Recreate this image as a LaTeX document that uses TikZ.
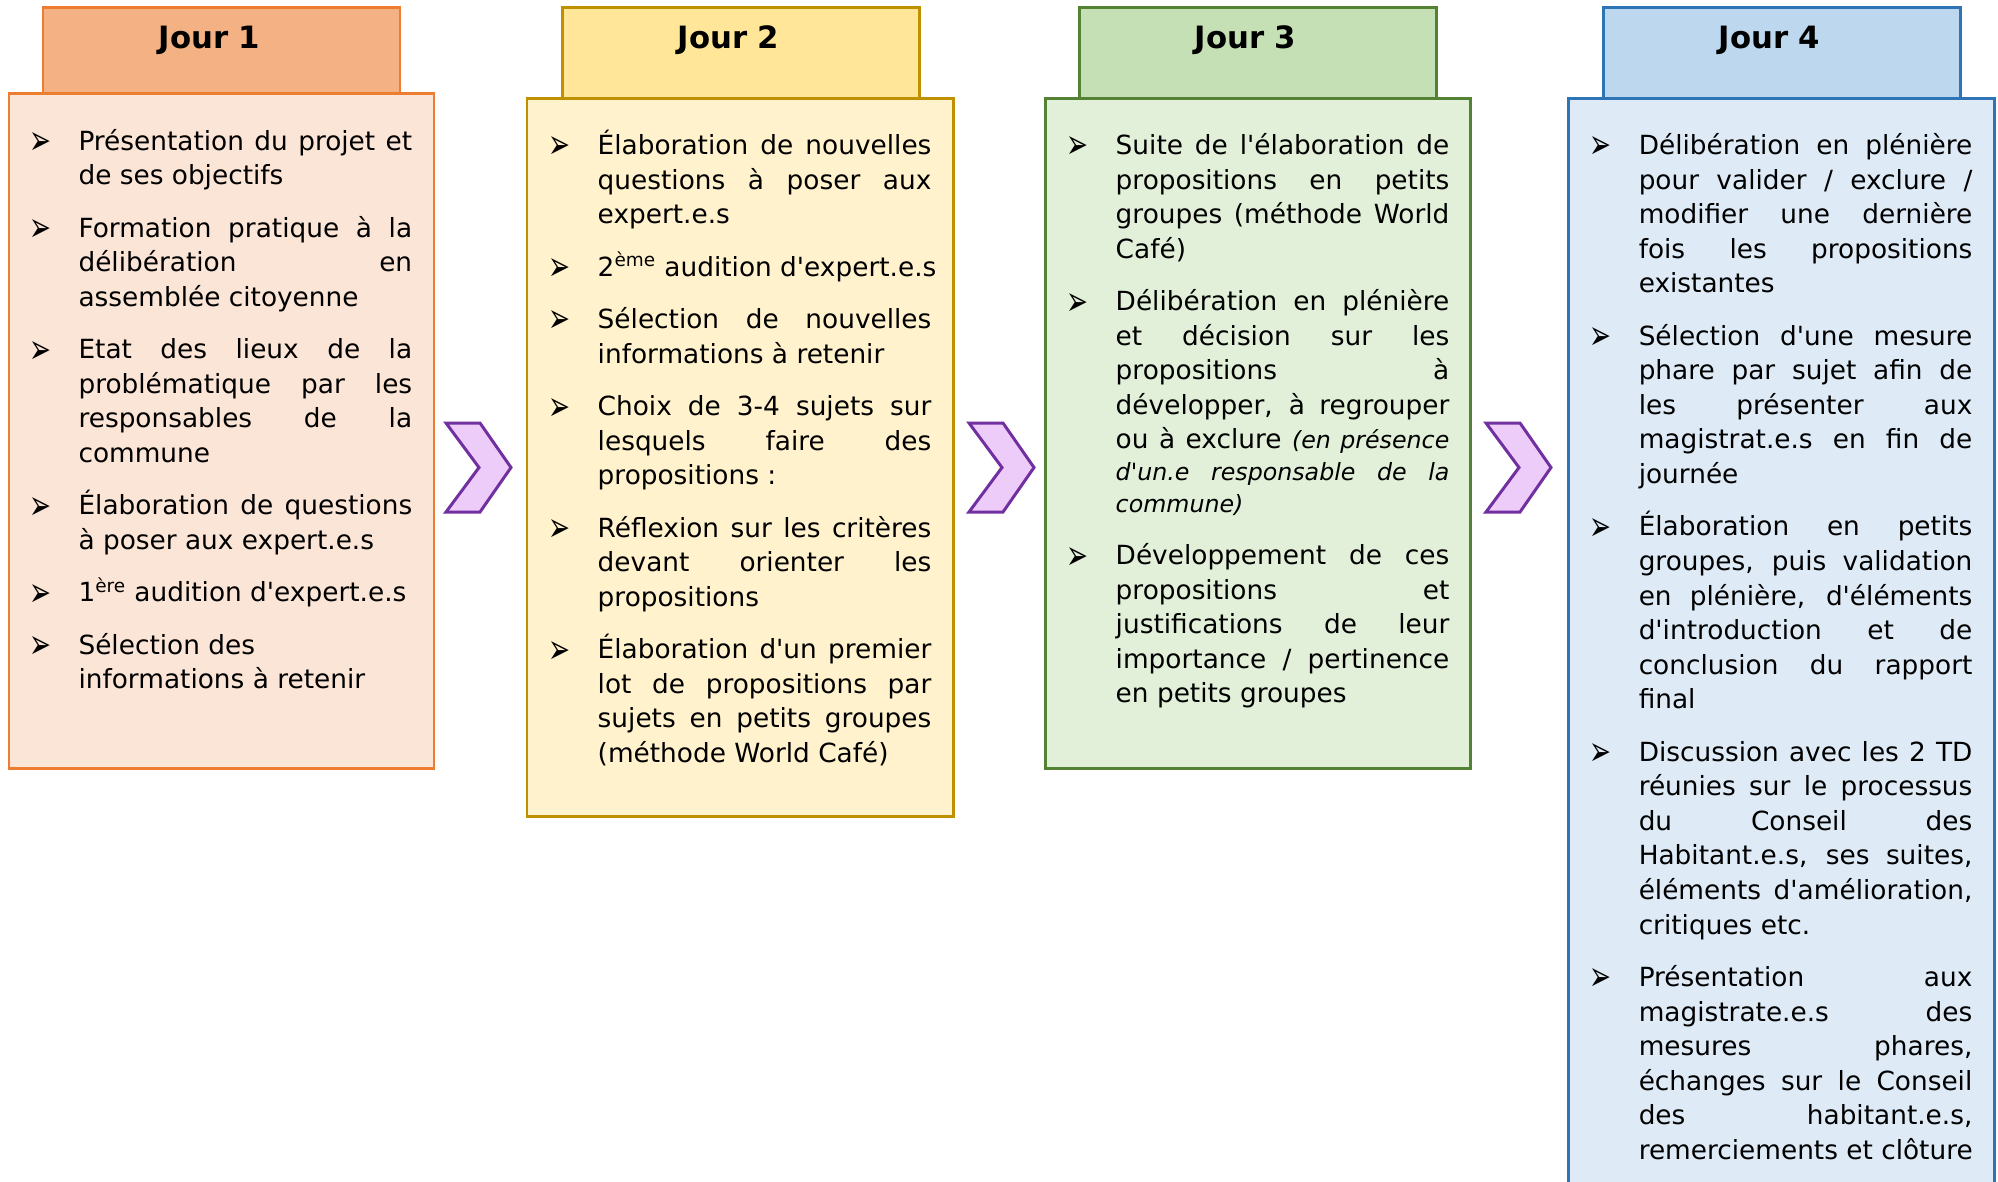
\documentclass[tikz,border=0pt]{standalone}
\usepackage{fontspec}
\setmainfont{DejaVu Sans}[Ligatures=TeXOff]
\usepackage{graphicx}

\definecolor{orbord}{HTML}{ED7D31}
\definecolor{ortete}{HTML}{F4B183}
\definecolor{orcorps}{HTML}{FBE5D6}
\definecolor{jabord}{HTML}{BF9000}
\definecolor{jatete}{HTML}{FFE699}
\definecolor{jacorps}{HTML}{FFF2CC}
\definecolor{vebord}{HTML}{548235}
\definecolor{vetete}{HTML}{C5E0B4}
\definecolor{vecorps}{HTML}{E2F0D9}
\definecolor{blbord}{HTML}{2E75B6}
\definecolor{bltete}{HTML}{BDD7EE}
\definecolor{blcorps}{HTML}{DEEBF7}
\definecolor{vibord}{HTML}{7030A0}
\definecolor{vifond}{HTML}{EECCFA}

\newlength{\largeur}\setlength{\largeur}{189.9pt}
\newlength{\retrait}\setlength{\retrait}{26.4pt}
\newlength{\ecart}\setlength{\ecart}{10.2pt}
\newcommand{\fleche}{\hspace*{-1.5pt}\raisebox{-2.5pt}{\resizebox{12.5pt}{12.5pt}{➢}}}
\newcommand{\puce}{\par\hangindent=\retrait\hangafter=0\noindent\llap{\makebox[\retrait][l]{\fleche}}\setlength{\parskip}{\ecart}}
\newcommand{\jl}[1]{\makebox[\largeur][s]{#1}\newline}
\newcommand{\dl}[1]{\makebox[\largeur][l]{#1}}
\newcommand{\suite}[1]{\par\begingroup\setlength{\parskip}{0pt}\fontsize{13.5}{18}\selectfont\itshape\hangindent=\retrait\hangafter=0\noindent#1\par\endgroup}

\begin{document}
\begin{tikzpicture}[x=0.02cm, y=-0.02cm,
  boite/.style 2 args={draw=#2, fill=#1, line width=1.7pt},
  titre/.style={anchor=base, inner sep=0pt, font=\bfseries\fontsize{17.5}{20}\selectfont},
  texte/.style={anchor=base west, inner sep=0pt, font=\fontsize{15}{19.67}\selectfont},
  chevron/.style={draw=vibord, fill=vifond, line width=1.7pt}]
\clip (0,0) rectangle (1998,1181);

\draw[boite={ortete}{orbord}] (43,7) rectangle (400,93);
\draw[boite={orcorps}{orbord}] (9,93) rectangle (434,768);
\draw[boite={jatete}{jabord}] (562,7) rectangle (919,98);
\draw[boite={jacorps}{jabord}] (527,98) rectangle (953,816);
\draw[boite={vetete}{vebord}] (1079,7) rectangle (1436,98);
\draw[boite={vecorps}{vebord}] (1045,98) rectangle (1470,768);
\draw[boite={bltete}{blbord}] (1603,7) rectangle (1960,98);
\draw[boite={blcorps}{blbord}] (1568,98) rectangle (1994,1240);

\foreach \xc in {446,969,1486}
  \draw[chevron] (\xc,423) -- ++(34,0) -- ++(31,44.5) -- ++(-31,44.5) -- ++(-34,0) -- ++(33,-44.5) -- cycle;

\node[titre] (t1) at (209.5,48.5) {Jour 1};
\node[titre] (t2) at (728.5,48.5) {Jour 2};
\node[titre] (t3) at (1245.5,48.5) {Jour 3};
\node[titre] (t4) at (1769.5,48.5) {Jour 4};

\node[texte] (j1) at (31.8,150) {\begin{minipage}[t]{216.3pt}
\puce\jl{Présentation du projet et}\dl{de ses objectifs}
\puce\jl{Formation pratique à la}\jl{délibération en}\dl{assemblée citoyenne}
\puce\jl{Etat des lieux de la}\jl{problématique par les}\jl{responsables de la}\dl{commune}
\puce\jl{Élaboration de questions}\dl{à poser aux expert.e.s}
\puce\dl{1\textsuperscript{ère} audition d'expert.e.s}
\puce\dl{Sélection des}\newline\dl{informations à retenir}
\end{minipage}};

\node[texte] (j2) at (551,154.5) {\begin{minipage}[t]{216.3pt}
\puce\jl{Élaboration de nouvelles}\jl{questions à poser aux}\dl{expert.e.s}
\puce\dl{2\textsuperscript{ème} audition d'expert.e.s}
\puce\jl{Sélection de nouvelles}\dl{informations à retenir}
\puce\jl{Choix de 3-4 sujets sur}\jl{lesquels faire des}\dl{propositions :}
\puce\jl{Réflexion sur les critères}\jl{devant orienter les}\dl{propositions}
\puce\jl{Élaboration d'un premier}\jl{lot de propositions par}\jl{sujets en petits groupes}\dl{(méthode World Café)}
\end{minipage}};

\node[texte] (j3) at (1069,154.5) {\begin{minipage}[t]{216.3pt}
\puce\jl{Suite de l'élaboration de}\jl{propositions en petits}\jl{groupes (méthode World}\dl{Café)}
\puce\jl{Délibération en plénière}\jl{et décision sur les}\jl{propositions à}\jl{développer, à regrouper}\makebox[\largeur][s]{ou à exclure {\fontsize{13.5}{18}\selectfont\itshape (en présence}}
\suite{\jl{d'un.e responsable de la}\dl{commune)}}
\puce\jl{Développement de ces}\jl{propositions et}\jl{justifications de leur}\jl{importance / pertinence}\dl{en petits groupes}
\end{minipage}};

\node[texte] (j4) at (1592,154.5) {\begin{minipage}[t]{216.3pt}
\puce\jl{Délibération en plénière}\jl{pour valider / exclure /}\jl{modifier une dernière}\jl{fois les propositions}\dl{existantes}
\puce\jl{Sélection d'une mesure}\jl{phare par sujet afin de}\jl{les présenter aux}\jl{magistrat.e.s en fin de}\dl{journée}
\puce\jl{Élaboration en petits}\jl{groupes, puis validation}\jl{en plénière, d'éléments}\jl{d'introduction et de}\jl{conclusion du rapport}\dl{final}
\puce\jl{Discussion avec les 2 TD}\jl{réunies sur le processus}\jl{du Conseil des}\jl{Habitant.e.s, ses suites,}\jl{éléments d'amélioration,}\dl{critiques etc.}
\puce\jl{Présentation aux}\jl{magistrate.e.s des}\jl{mesures phares,}\jl{échanges sur le Conseil}\jl{des habitant.e.s,}\dl{remerciements et clôture}
\end{minipage}};
\end{tikzpicture}
\end{document}
